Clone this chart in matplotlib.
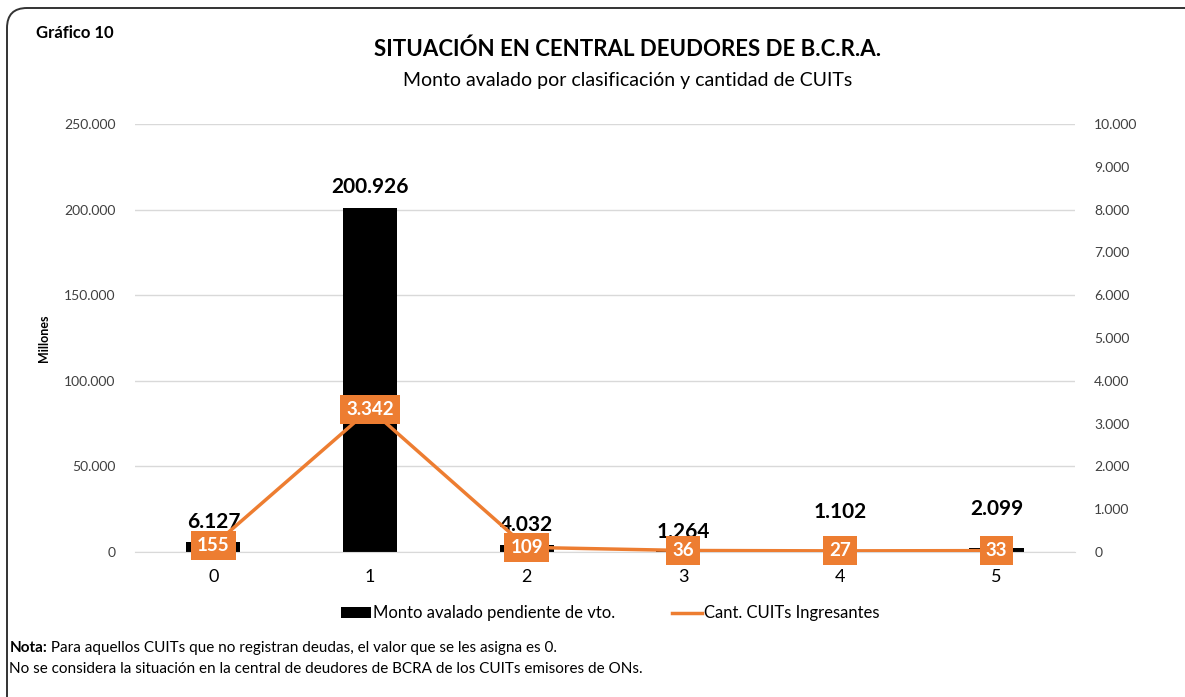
import matplotlib.pyplot as plt
from matplotlib.patches import FancyBboxPatch
from matplotlib.ticker import FuncFormatter

plt.rcParams['font.family'] = ['Lato', 'DejaVu Sans']

categories = ["0", "1", "2", "3", "4", "5"]
monto = [6127, 200926, 4032, 1264, 1102, 2099]
cuits = [155, 3342, 109, 36, 27, 33]

# label offsets (points) above the bar top, as in the original layout
label_offsets = [7, 8, 7, 6, 20, 21]

ORANGE = "#ED7D31"


def miles(v, pos=None):
    return f"{int(round(v)):,}".replace(",", ".")


fig = plt.figure(figsize=(11.85, 6.97), dpi=100)

# rounded frame, only top/left edges visible
frame = FancyBboxPatch((0.07, -0.3), 12.2, 6.97 - 0.08 + 0.3,
                       boxstyle="round,pad=0,rounding_size=0.2",
                       transform=fig.dpi_scale_trans, fill=False, edgecolor="#333333", linewidth=1.4)
fig.patches.append(frame)

ax = fig.add_axes([0.114, 0.208, 0.793, 0.614])
ax2 = ax.twinx()

x = list(range(len(categories)))
ax.bar(x, monto, width=0.345, color="black", zorder=2, label="Monto avalado pendiente de vto.")
ax.set_ylim(0, 250000)
ax.set_yticks(range(0, 250001, 50000))
ax.yaxis.set_major_formatter(FuncFormatter(miles))
ax.set_xlim(-0.5, 5.5)
ax.set_xticks(x)
ax.set_xticklabels(categories, fontsize=13)
ax.grid(axis="y", color="#d9d9d9", linewidth=1, zorder=0)
ax.set_axisbelow(True)
ax.tick_params(axis="y", length=0, labelsize=10, colors="#404040", pad=14)
ax.tick_params(axis="x", length=0, pad=12)
for s in ax.spines.values():
    s.set_visible(False)
ax.spines["bottom"].set_visible(True)
ax.spines["bottom"].set_color("#d9d9d9")
ax.set_ylabel("Millones", fontsize=9, fontweight="bold", labelpad=10)

for xi, v, off in zip(x, monto, label_offsets):
    ax.annotate(miles(v), (xi, v), xytext=(0, off), textcoords="offset points",
                ha="center", va="bottom", fontsize=15, fontweight="bold")

ax2.plot(x, cuits, color=ORANGE, linewidth=2.5, zorder=3, label="Cant. CUITs Ingresantes")
ax2.set_ylim(0, 10000)
ax2.set_yticks(range(0, 10001, 1000))
ax2.yaxis.set_major_formatter(FuncFormatter(miles))
ax2.tick_params(axis="y", length=0, labelsize=10, colors="#404040", pad=14)
for s in ax2.spines.values():
    s.set_visible(False)

for xi, v in zip(x, cuits):
    ax2.text(xi, v, miles(v), ha="center", va="center", fontsize=13.5, fontweight="bold",
             color="white", zorder=5,
             bbox=dict(boxstyle="square,pad=0.32", facecolor=ORANGE, edgecolor="none"))

h1, l1 = ax.get_legend_handles_labels()
h2, l2 = ax2.get_legend_handles_labels()
fig.legend(h1 + h2, l1 + l2, loc="center", bbox_to_anchor=(0.515, 0.12), ncol=2, frameon=False,
           fontsize=12, handlelength=1.8, handleheight=0.6, handletextpad=0.15, columnspacing=3.4)

fig.text(0.03, 0.953, "Gráfico 10", fontsize=12, fontweight="bold", va="center")
fig.text(0.53, 0.93, "SITUACIÓN EN CENTRAL DEUDORES DE B.C.R.A.", fontsize=16, fontweight="bold",
         ha="center", va="center")
fig.text(0.53, 0.884, "Monto avalado por clasificación y cantidad de CUITs", fontsize=14,
         ha="center", va="center")

nota = fig.text(0.008, 0.07, "Nota:", fontsize=11, fontweight="bold", va="center")
ax.annotate(" Para aquellos CUITs que no registran deudas, el valor que se les asigna es 0.",
            xy=(1, 0.5), xycoords=nota, va="center", ha="left", fontsize=11, annotation_clip=False)
fig.text(0.008, 0.04, "No se considera la situación en la central de deudores de BCRA de los CUITs emisores de ONs.",
         fontsize=11, va="center")

fig.savefig("out.png", dpi=100)
